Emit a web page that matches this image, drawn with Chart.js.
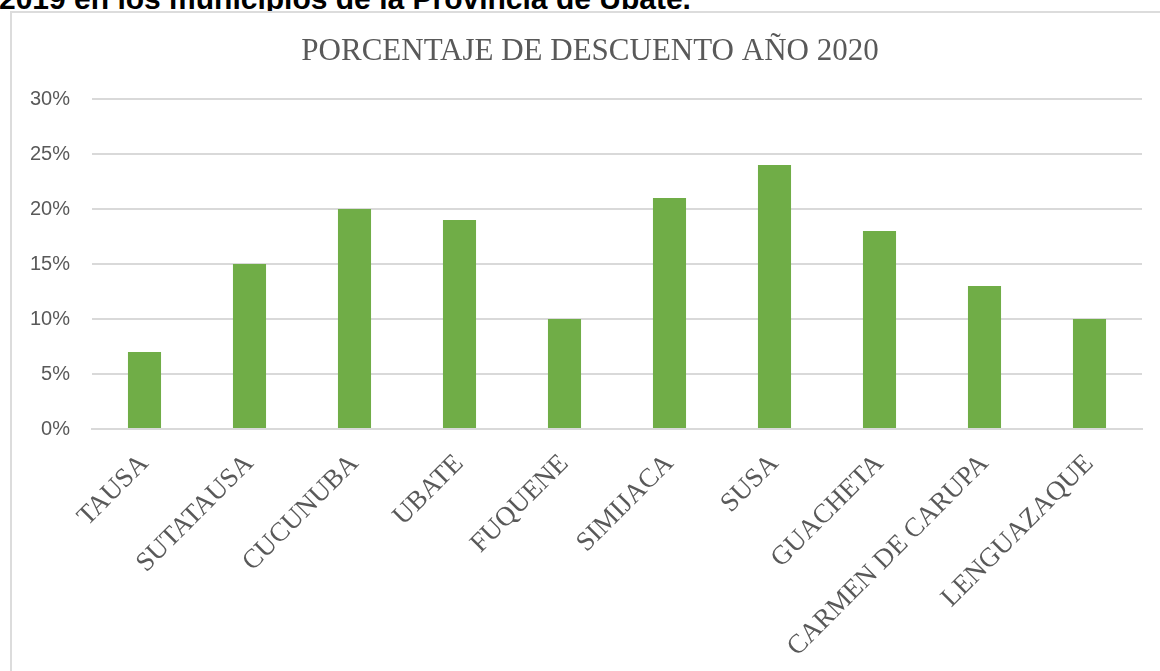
<!DOCTYPE html>
<html>
<head>
<meta charset="utf-8">
<script src="https://cdn.jsdelivr.net/npm/chart.js@4.4.1/dist/chart.umd.min.js"></script>
<style>
  html, body { margin: 0; padding: 0; background: #ffffff; overflow: hidden; }
  body { width: 1160px; height: 671px; position: relative; }
  #header {
    position: absolute; left: -1px; top: -16px; white-space: nowrap;
    font-family: "Liberation Sans", Arial, sans-serif; font-weight: bold;
    font-size: 30px; line-height: 30px; color: #000000;
  }
  #frame {
    position: absolute; left: 10px; top: 11px; width: 1300px; height: 800px;
    border: 2px solid #dcdcdc; box-sizing: border-box; background: #ffffff;
  }
  #wrap { position: absolute; left: 0; top: 0; width: 1160px; height: 671px; }
</style>
</head>
<body>
<div id="header">2019 en los municipios de la Provincia de Ubaté.</div>
<div id="frame"></div>
<div id="wrap"><canvas id="c" width="1160" height="671"></canvas></div>
<script>
const chartTitle = "PORCENTAJE DE DESCUENTO AÑO 2020";
const categories = ["TAUSA", "SUTATAUSA", "CUCUNUBA", "UBATE", "FUQUENE", "SIMIJACA", "SUSA", "GUACHETA", "CARMEN DE CARUPA", "LENGUAZAQUE"];
const discountValues = [0.07, 0.15, 0.20, 0.19, 0.10, 0.21, 0.24, 0.18, 0.13, 0.10];
const yTickValues = [0, 0.05, 0.10, 0.15, 0.20, 0.25, 0.30];

const textGray = "#595959";
const gridGray = "#d9d9d9";

// Chart title drawn centred on the (cropped) chart frame, as in the original
const frameTitle = {
  id: "frameTitle",
  afterDraw(chart) {
    const ctx = chart.ctx;
    ctx.save();
    ctx.font = "31px 'Liberation Serif', 'DejaVu Serif', serif";
    ctx.fillStyle = textGray;
    ctx.textAlign = "center";
    ctx.textBaseline = "alphabetic";
    ctx.fillText(chartTitle, 590, 60);
    ctx.restore();
  }
};

new Chart(document.getElementById("c"), {
  type: "bar",
  data: {
    labels: categories,
    datasets: [{
      data: discountValues,
      backgroundColor: "#70ad47",
      borderWidth: 0,
      barPercentage: 0.315,
      categoryPercentage: 1.0
    }]
  },
  plugins: [frameTitle],
  options: {
    responsive: false,
    animation: false,
    devicePixelRatio: 1,
    layout: { padding: { left: 0, right: 18, top: 99, bottom: 0 } },
    plugins: {
      legend: { display: false },
      tooltip: { enabled: false },
      title: { display: false }
    },
    scales: {
      x: {
        grid: { display: false, drawTicks: false },
        border: { display: true, color: gridGray, width: 2 },
        ticks: {
          color: textGray,
          autoSkip: false,
          maxRotation: 45,
          minRotation: 45,
          padding: 19,
          font: { family: "'Liberation Serif', 'DejaVu Serif', serif", size: 27 }
        },
        afterFit: (s) => { s.height = 242; }
      },
      y: {
        min: 0,
        max: 0.30,
        afterBuildTicks: (s) => { s.ticks = yTickValues.map(v => ({ value: v })); },
        grid: { color: gridGray, lineWidth: 2, drawTicks: false },
        border: { display: false },
        ticks: {
          color: textGray,
          padding: 22,
          font: { family: "'Liberation Sans', Arial, sans-serif", size: 20 },
          callback: (v) => Math.round(v * 100) + "%"
        },
        afterFit: (s) => { s.width = 92; }
      }
    }
  }
});
</script>
</body>
</html>
